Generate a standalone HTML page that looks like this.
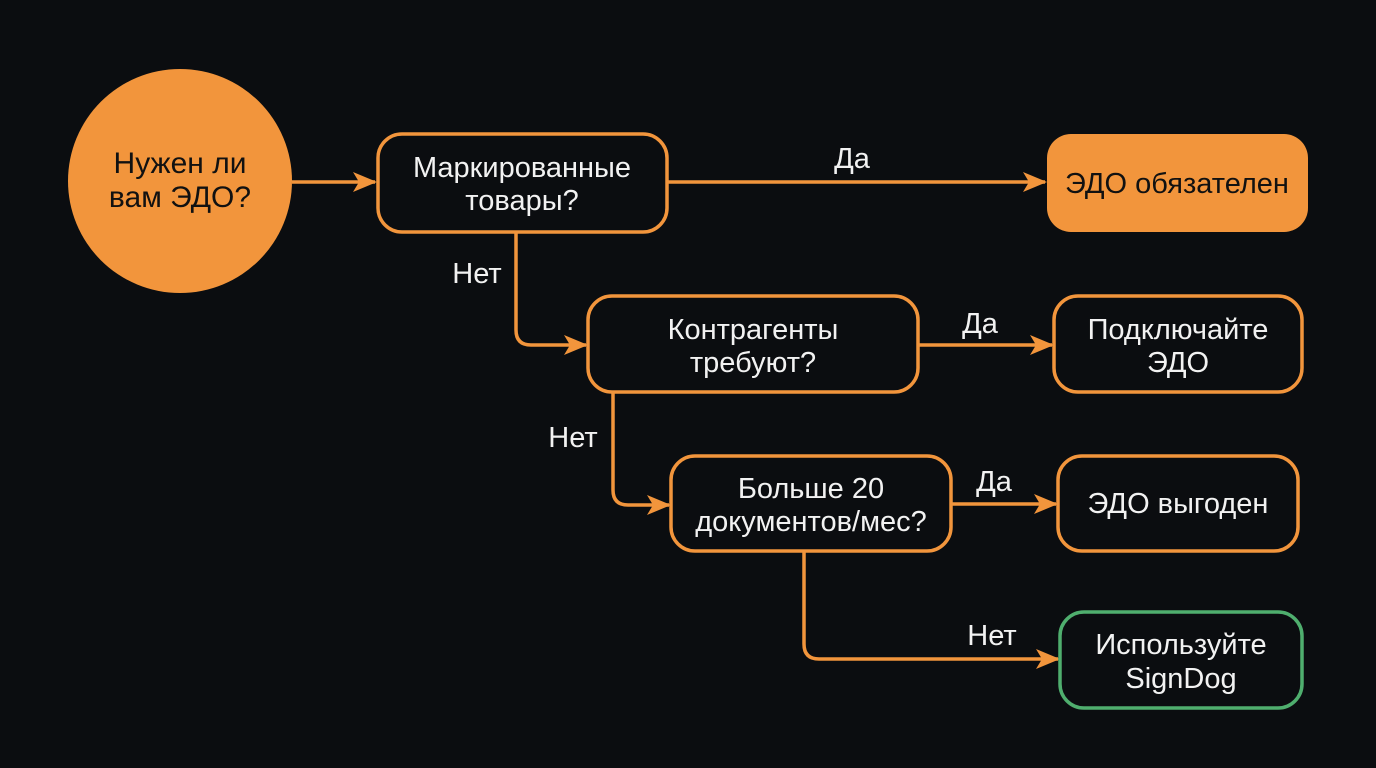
<!DOCTYPE html>
<html><head><meta charset="utf-8"><style>
html,body{margin:0;padding:0;background:#0b0d10;}
svg{display:block}
text{font-family:"Liberation Sans","DejaVu Sans",sans-serif;font-size:29px;text-anchor:middle;fill:#f2f2f2}
</style></head><body>
<svg width="1376" height="768" viewBox="0 0 1376 768" xmlns="http://www.w3.org/2000/svg">
<rect width="1376" height="768" fill="#0b0d10"/>
<defs>
<marker id="a" markerWidth="24" markerHeight="20" refX="22" refY="10" orient="auto" markerUnits="userSpaceOnUse">
<path d="M0,0 L24,10 L0,20 L6,10 Z" fill="#f2953c"/>
</marker>
</defs>
<g fill="none" stroke="#f2953c" stroke-width="3.5">
<path d="M292,182 L375,182" marker-end="url(#a)"/>
<path d="M667,182 L1045,182" marker-end="url(#a)"/>
<path d="M516,232 L516,330 Q516,345 531,345 L586,345" marker-end="url(#a)"/>
<path d="M918,345 L1052,345" marker-end="url(#a)"/>
<path d="M613,392 L613,490 Q613,505 628,505 L669,505" marker-end="url(#a)"/>
<path d="M951,504 L1056,504" marker-end="url(#a)"/>
<path d="M804,551 L804,644 Q804,659 819,659 L1058,659" marker-end="url(#a)"/>
</g>
<circle cx="180" cy="181" r="112" fill="#f2953c"/>
<text x="180" y="173" style="fill:#111;font-size:30px">Нужен ли</text>
<text x="180" y="207" style="fill:#111;font-size:30px">вам ЭДО?</text>

<g fill="#0b0d10" stroke="#f2953c" stroke-width="3.5">
<rect x="378" y="134" width="289" height="98" rx="24"/>
<rect x="588" y="296" width="330" height="96" rx="24"/>
<rect x="671" y="456" width="280" height="95" rx="24"/>
<rect x="1054" y="296" width="248" height="96" rx="24"/>
<rect x="1058" y="456" width="240" height="95" rx="24"/>
</g>
<rect x="1047" y="134" width="261" height="98" rx="24" fill="#f2953c"/>
<rect x="1060" y="612" width="242" height="96" rx="24" fill="#0b0d10" stroke="#4fae6e" stroke-width="3.5"/>

<text x="522" y="177">Маркированные</text>
<text x="522" y="210">товары?</text>
<text x="1177" y="193" style="fill:#111">ЭДО обязателен</text>
<text x="753" y="339">Контрагенты</text>
<text x="753" y="372">требуют?</text>
<text x="1178" y="339">Подключайте</text>
<text x="1178" y="372">ЭДО</text>
<text x="811" y="498">Больше 20</text>
<text x="811" y="531">документов/мес?</text>
<text x="1178" y="513">ЭДО выгоден</text>
<text x="1181" y="654">Используйте</text>
<text x="1181" y="688">SignDog</text>

<text x="852" y="168">Да</text>
<text x="477" y="283">Нет</text>
<text x="980" y="333">Да</text>
<text x="573" y="447">Нет</text>
<text x="994" y="491">Да</text>
<text x="992" y="645">Нет</text>
</svg>
</body></html>
